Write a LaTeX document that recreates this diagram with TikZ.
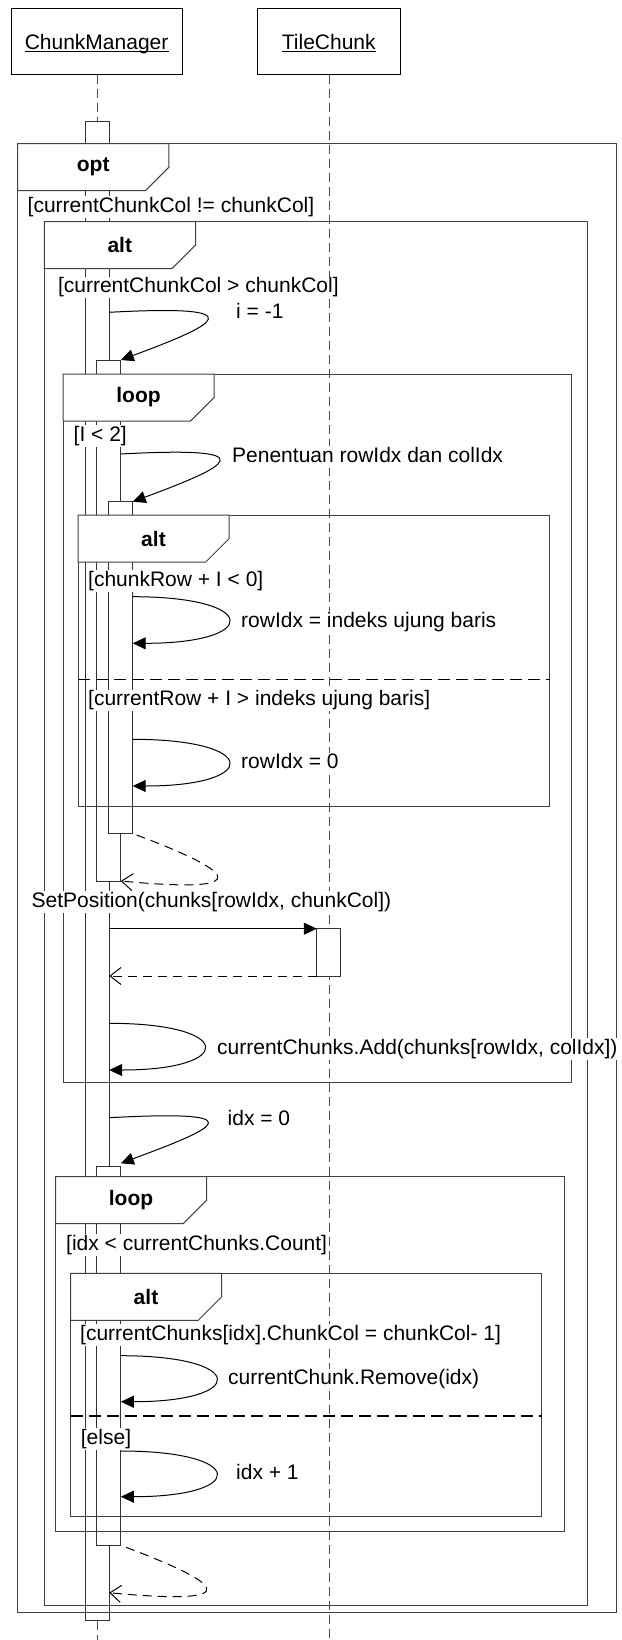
\documentclass[tikz,border=0pt]{standalone}
\usepackage{fontspec}
\setmainfont{Liberation Sans}
\usetikzlibrary{arrows.meta}

% combined fragment: left, top, right, bottom, node name, operator
\newcommand\umlfrag[6]{%
  \draw[frame] (#1,#2) rectangle (#3,#4);
  \draw[tab] (#1,#2) -- ++(151.2,0) -- ++(0,23.5) -- ++(-23.5,23.5) -- (#1,#2+47) -- cycle;
  \node[oplbl] (#5) at (#1+75.5,#2+23.5) {#6};
}

\begin{document}
\begin{tikzpicture}[x=1pt,y=-1pt,
  every node/.style={font=\fontsize{21}{25}\selectfont, inner sep=0pt},
  lbl/.style={anchor=west, fill=white, inner xsep=1pt, inner ysep=1pt,
    text height=15.3pt, text depth=4.4pt},
  oplbl/.style={font=\fontsize{21}{25}\selectfont\bfseries},
  head/.style={draw=black, line width=1pt},
  frame/.style={draw=black!75, line width=1pt},
  tab/.style={draw=black!75, fill=white, line width=1pt},
  act/.style={draw=black!80, fill=white, line width=1pt},
  life/.style={draw=black!70, line width=1pt, dash pattern=on 9pt off 5pt},
  sepline/.style={draw=black, line width=1.6pt, dash pattern=on 12pt off 6pt},
  msg/.style={draw=black, line width=1pt, -{Triangle[length=13pt,width=12pt]}},
  ret/.style={draw=black, line width=1pt, dash pattern=on 9pt off 6pt,
    -{Straight Barb[length=11pt,width=17pt]}},
]
\useasboundingbox (0,0) rectangle (621,1640);

% ---- lifeline heads ----
\draw[head] (11,8.3) rectangle (182.7,75);
\draw[head] (257.7,8.3) rectangle (400,75);
\node[anchor=base] (cm) at (96.6,49.3) {ChunkManager};
\node[anchor=base] (tc) at (328.8,49.3) {TileChunk};
\draw[line width=1.2pt] ([yshift=-2.4pt]cm.base west) -- ([yshift=-2.4pt]cm.base east);
\draw[line width=1.2pt] ([yshift=-2.4pt]tc.base west) -- ([yshift=-2.4pt]tc.base east);

% ---- lifelines ----
\coordinate (cmtop) at (97.1,75);
\coordinate (cma) at (97.1,122);
\coordinate (cmb) at (97.1,1620.7);
\coordinate (cmend) at (97.1,1640);
\coordinate (tctop) at (329,75);
\coordinate (tcend) at (329,1640);
\draw[life] (cmtop) -- (cma);
\draw[life] (cmb) -- (cmend);
\draw[life] (tctop) -- (tcend);

% ---- activations ----
\draw[act] (85,122) rectangle (109.2,1620.7);
\draw[act] (96.7,360) rectangle (120.8,881);
\draw[act] (108.8,501.7) rectangle (132.7,833.3);
\draw[act] (96.7,1166) rectangle (120.8,1545);
\draw[act] (316.8,928.7) rectangle (340.6,976);

% ---- combined fragments ----
\umlfrag{17.7}{143.7}{616.7}{1612.3}{fopt}{opt}
\umlfrag{44.3}{221.7}{587.3}{1605.7}{falta}{alt}
\umlfrag{63}{374}{571.7}{1082.7}{floopa}{loop}
\umlfrag{78}{515}{549.7}{806.7}{faltb}{alt}
\umlfrag{55.5}{1176.7}{564.4}{1531}{floopb}{loop}
\umlfrag{70.5}{1273.3}{541.8}{1516}{faltc}{alt}
\draw[sepline] (78,679.3) -- (549.7,679.3);
\draw[sepline] (70.5,1415.7) -- (541.8,1415.7);

% ---- guards ----
\node[lbl] (g1) at (26.5,207.3) {[currentChunkCol != chunkCol]};
\node[lbl] (g2) at (56.8,287.5) {[currentChunkCol > chunkCol]};
\node[lbl] (g3) at (72.5,435.8) {[I < 2]};
\node[lbl] (g4) at (87,580.8) {[chunkRow + I < 0]};
\node[lbl] (g5) at (87,700.5) {[currentRow + I > indeks ujung baris]};
\node[lbl] (g6) at (65,1245) {[idx < currentChunks.Count]};
\node[lbl] (g7) at (79,1335) {[currentChunks[idx].ChunkCol = chunkCol- 1]};
\node[lbl] (g8) at (79.7,1439.2) {[else]};

% ---- messages ----
\coordinate (m1s) at (109.2,312.3);  \coordinate (m1e) at (120.8,360);
\coordinate (m2s) at (120.8,454);    \coordinate (m2e) at (132.7,501.7);
\coordinate (m3s) at (132.7,596.7);  \coordinate (m3e) at (132.7,643.3);
\coordinate (m4s) at (132.7,739.3);  \coordinate (m4e) at (132.7,786);
\coordinate (r1s) at (136.6,835);    \coordinate (r1e) at (120.8,881);
\coordinate (cs) at (109.2,928.7);   \coordinate (ce) at (316.8,928.7);
\coordinate (rs) at (316.8,976);     \coordinate (re) at (109.2,976);
\coordinate (m5s) at (109.2,1023.3); \coordinate (m5e) at (109.2,1070);
\coordinate (m6s) at (109.2,1117.7); \coordinate (m6e) at (120.8,1163.3);
\coordinate (m7s) at (120.8,1355.7); \coordinate (m7e) at (120.8,1401.7);
\coordinate (m8s) at (120.8,1451);   \coordinate (m8e) at (120.8,1496.7);
\coordinate (r2s) at (126,1547.3);   \coordinate (r2e) at (109.2,1592.7);

\draw[msg] (m1s) .. controls +(148,-8) and +(97,-36) .. (m1e);
\draw[msg] (m2s) .. controls +(148,-8) and +(97,-36) .. (m2e);
\draw[msg] (m3s) .. controls +(127.7,0) and +(127.7,0) .. (m3e);
\draw[msg] (m4s) .. controls +(127.7,0) and +(127.7,0) .. (m4e);
\draw[ret] (r1s) .. controls +(120,45) and +(116,11) .. (r1e);
\draw[msg] (cs) -- (ce);
\draw[ret] (rs) -- (re);
\draw[msg] (m5s) .. controls +(126.4,0) and +(126.4,0) .. (m5e);
\draw[msg] (m6s) .. controls +(148,-8) and +(97,-36) .. (m6e);
\draw[msg] (m7s) .. controls +(126.7,0) and +(126.7,0) .. (m7e);
\draw[msg] (m8s) .. controls +(126.7,0) and +(126.7,0) .. (m8e);
\draw[ret] (r2s) .. controls +(120,45) and +(116,11) .. (r2e);

% ---- message labels ----
\node[lbl] (l1) at (235,313.5) {i = -1};
\node[lbl] (l2) at (231,457) {Penentuan rowIdx dan colIdx};
\node[lbl] (l3) at (240,622) {rowIdx = indeks ujung baris};
\node[lbl] (l4) at (240,763.5) {rowIdx = 0};
\node[lbl] (l5) at (30.5,902) {SetPosition(chunks[rowIdx, chunkCol])};
\node[lbl] (l6) at (216,1048.9) {currentChunks.Add(chunks[rowIdx, colIdx])};
\node[lbl] (l7) at (226.5,1120.2) {idx = 0};
\node[lbl] (l8) at (227,1379.5) {currentChunk.Remove(idx)};
\node[lbl] (l9) at (235,1474.5) {idx + 1};
\end{tikzpicture}
\end{document}
